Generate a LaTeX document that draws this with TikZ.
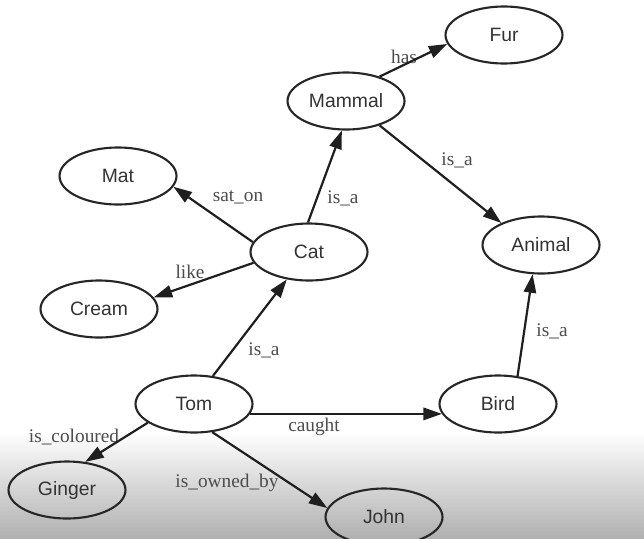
\documentclass[tikz,border=0pt]{standalone}
\usepackage{fontspec}
\setmainfont{Liberation Serif}
\setsansfont{Liberation Sans}
\usetikzlibrary{shapes.geometric}
\usetikzlibrary{arrows.meta}

\begin{document}
\begin{tikzpicture}[x=0.02cm,y=-0.02cm,
		concept/.style={draw=black!85,ellipse,line width=1.2pt,minimum width=2.34cm,minimum height=1.14cm,inner sep=0pt,text=black!80,font=\sffamily\fontsize{11}{13}\selectfont},
		rel/.style={text=black!70,font=\fontsize{11}{13}\selectfont,inner sep=0pt},
		link/.style={draw=black!88,line width=1.25pt,-{Triangle[length=10.5pt,width=7pt]}}]
				\useasboundingbox (0,0) rectangle (644,538);
				\shade [top color=white,bottom color=gray!62] (0,432) rectangle (644,538);
				\node [concept] (fur) at (504,35) {Fur}; \node [concept] (mammal) at (346,101) {Mammal};
				\node [concept] (mat) at (118,176) {Mat}; \node [concept] (cat) at (309,252) {Cat}; \node [concept] (animal) at (541,245) {Animal};
				\node [concept] (cream) at (99,309) {Cream}; \node [concept] (tom) at (194,404) {Tom}; \node [concept] (bird) at (498,404) {Bird};
				\node [concept] (ginger) at (67,490) {Ginger}; \node [concept] (john) at (384,517) {John};
				\node [rel] (has) at (404,57) {has}; \node [rel] (isaMA) at (457,160) {is\_a}; \node [rel] (isaCM) at (343,198) {is\_a};
				\node [rel] (saton) at (238,197) {sat\_on}; \node [rel] (like) at (190,272) {like}; \node [rel] (isaTC) at (264,350) {is\_a};
				\node [rel] (caught) at (314,427) {caught}; \node [rel] (isaBA) at (552,331) {is\_a};
				\node [rel] (coloured) at (74,437) {is\_coloured}; \node [rel] (owned) at (227,483) {is\_owned\_by};
				\draw [link] (mammal.36) -- (fur.189); \draw [link] (mammal.-36) -- (animal.151);
				\draw [link] (cat.92) -- (mammal.-98); \draw [link] (cat.170) -- (mat.-11); \draw [link] (cat.191) -- (cream.12);
				\draw [link] (tom.56) -- (cat.231); \draw [link] (tom.-10) -- (bird.190); \draw [link] (bird.55) -- (animal.-106);
				\draw [link] (tom.202) -- (ginger.57); \draw [link] (tom.-57) -- (john.171);
			\end{tikzpicture}
\end{document}
